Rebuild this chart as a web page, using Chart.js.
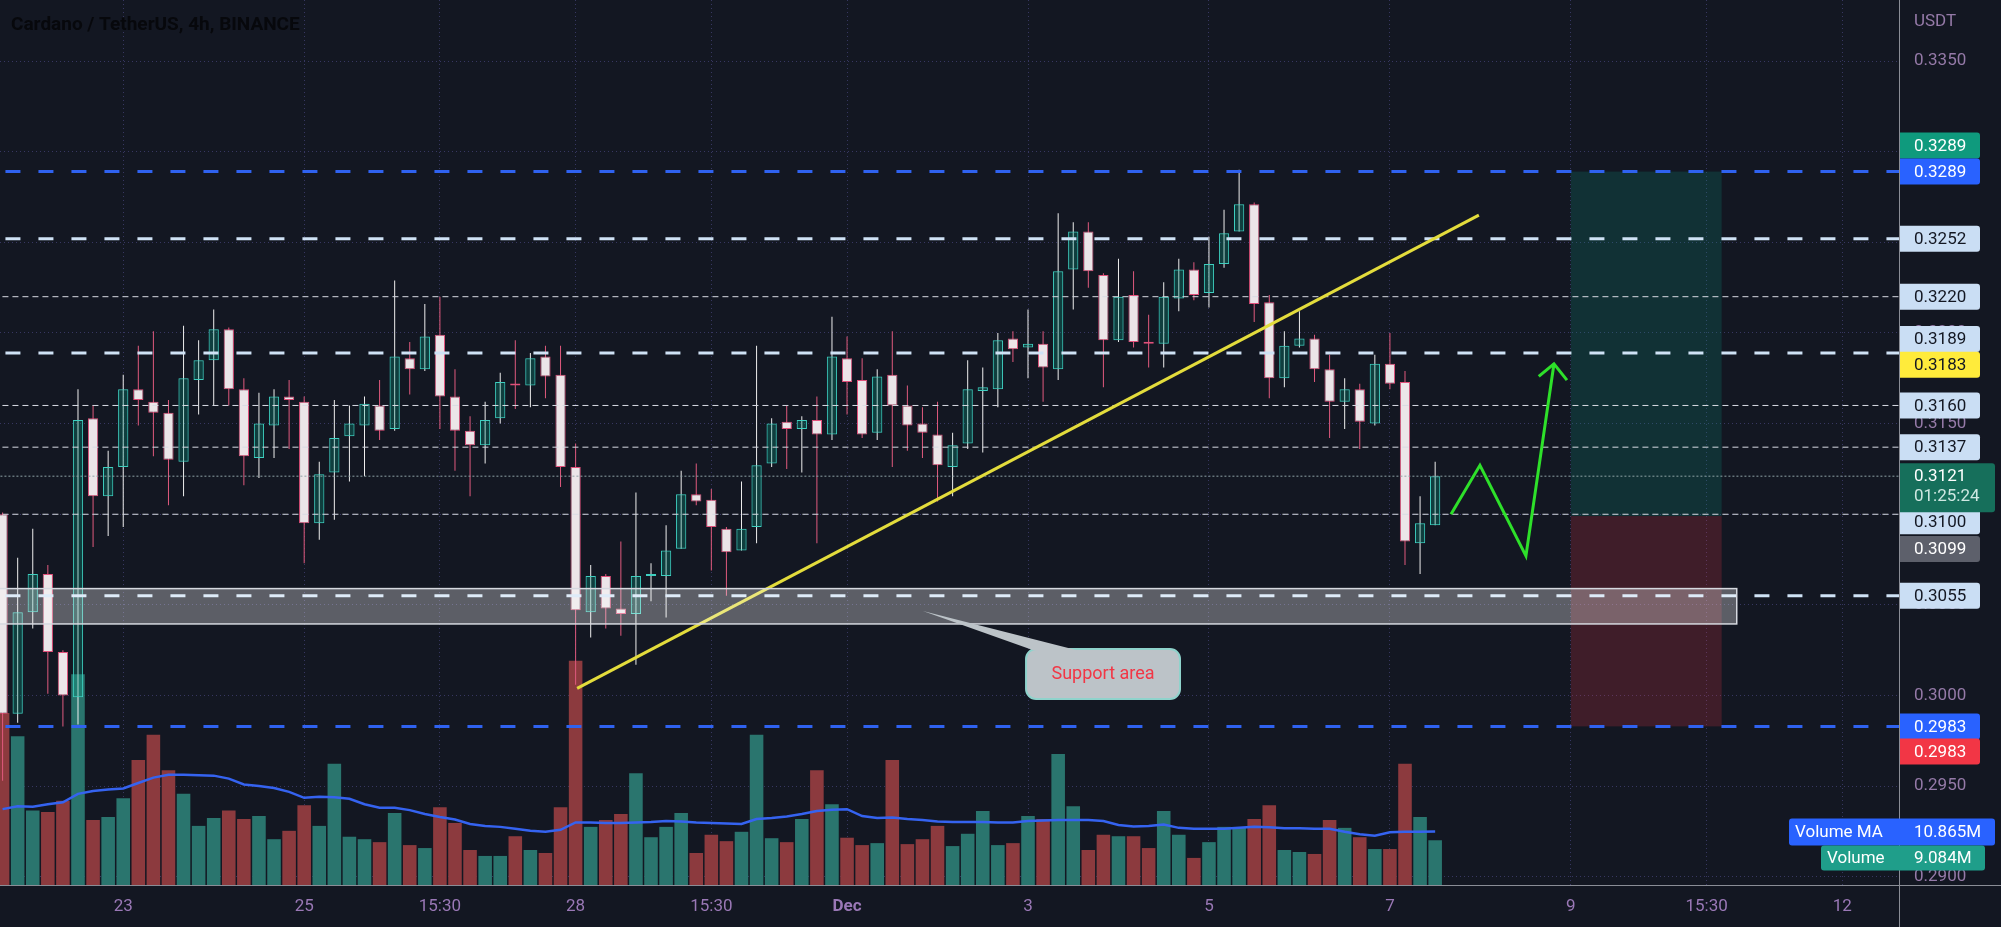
<!DOCTYPE html>
<html>
<head>
<meta charset="utf-8">
<title>Cardano / TetherUS, 4h, BINANCE</title>
<script src="https://cdn.jsdelivr.net/npm/chart.js@4.4.1/dist/chart.umd.min.js"></script>
<style>
  html, body { margin: 0; padding: 0; background: #131722; }
  canvas { display: block; }
</style>
</head>
<body>
<canvas id="chart" width="2001" height="927"></canvas>
<script>
// ADA/USDT 4h bars, bar 0 = first bar on screen
const opens = [
  0.3100, 0.2990, 0.3046, 0.3067, 0.3024, 0.2999, 0.3153, 0.3110, 0.3126, 0.3169,
  0.3162, 0.3156, 0.3129, 0.3174, 0.3185, 0.3202, 0.3169, 0.3131, 0.3149, 0.3165,
  0.3162, 0.3095, 0.3123, 0.3143, 0.3149, 0.3160, 0.3147, 0.3186, 0.3180, 0.3199,
  0.3165, 0.3146, 0.3138, 0.3153, 0.3172, 0.3171, 0.3187, 0.3177, 0.3126, 0.3046,
  0.3066, 0.3048, 0.3045, 0.3066, 0.3066, 0.3081, 0.3111, 0.3108, 0.3092, 0.3080,
  0.3093, 0.3128, 0.3151, 0.3147, 0.3152, 0.3144, 0.3186, 0.3174, 0.3145, 0.3177,
  0.3160, 0.3150, 0.3144, 0.3126, 0.3139, 0.3168, 0.3169, 0.3197, 0.3192, 0.3194,
  0.3180, 0.3235, 0.3256, 0.3232, 0.3196, 0.3221, 0.3195, 0.3194, 0.3219, 0.3235,
  0.3222, 0.3238, 0.3256, 0.3271, 0.3217, 0.3175, 0.3193, 0.3197, 0.3180, 0.3162,
  0.3169, 0.3150, 0.3183, 0.3173, 0.3084, 0.3094
];
const highs = [
  0.3101, 0.3076, 0.3092, 0.3072, 0.3025, 0.3169, 0.3160, 0.3135, 0.3177, 0.3193,
  0.3201, 0.3163, 0.3204, 0.3196, 0.3213, 0.3203, 0.3175, 0.3167, 0.3169, 0.3174,
  0.3165, 0.3129, 0.3163, 0.3160, 0.3165, 0.3174, 0.3229, 0.3195, 0.3216, 0.3220,
  0.3180, 0.3154, 0.3162, 0.3178, 0.3196, 0.3189, 0.3193, 0.3193, 0.3139, 0.3072,
  0.3067, 0.3085, 0.3112, 0.3073, 0.3094, 0.3124, 0.3128, 0.3114, 0.3093, 0.3118,
  0.3193, 0.3153, 0.3160, 0.3154, 0.3165, 0.3209, 0.3198, 0.3186, 0.3180, 0.3201,
  0.3171, 0.3159, 0.3162, 0.3145, 0.3185, 0.3181, 0.3200, 0.3201, 0.3213, 0.3201,
  0.3266, 0.3261, 0.3261, 0.3233, 0.3241, 0.3234, 0.3210, 0.3228, 0.3241, 0.3239,
  0.3253, 0.3268, 0.3290, 0.3272, 0.3221, 0.3201, 0.3212, 0.3199, 0.3188, 0.3175,
  0.3172, 0.3188, 0.3200, 0.3179, 0.3110, 0.3129
];
const lows = [
  0.2953, 0.2985, 0.3037, 0.3001, 0.2983, 0.2984, 0.3082, 0.3088, 0.3093, 0.3149,
  0.3132, 0.3105, 0.3110, 0.3155, 0.3160, 0.3160, 0.3116, 0.3120, 0.3131, 0.3136,
  0.3073, 0.3086, 0.3097, 0.3118, 0.3121, 0.3141, 0.3146, 0.3166, 0.3179, 0.3147,
  0.3124, 0.3110, 0.3128, 0.3150, 0.3158, 0.3159, 0.3164, 0.3115, 0.3006, 0.3032,
  0.3037, 0.3033, 0.3017, 0.3052, 0.3043, 0.3081, 0.3105, 0.3069, 0.3055, 0.3080,
  0.3084, 0.3126, 0.3125, 0.3123, 0.3084, 0.3141, 0.3155, 0.3142, 0.3141, 0.3126,
  0.3135, 0.3131, 0.3107, 0.3110, 0.3136, 0.3134, 0.3159, 0.3184, 0.3175, 0.3162,
  0.3174, 0.3213, 0.3225, 0.3170, 0.3195, 0.3192, 0.3181, 0.3181, 0.3212, 0.3218,
  0.3214, 0.3236, 0.3256, 0.3206, 0.3164, 0.3170, 0.3192, 0.3173, 0.3142, 0.3147,
  0.3136, 0.3149, 0.3169, 0.3072, 0.3067, 0.3094
];
const closes = [
  0.2990, 0.3046, 0.3067, 0.3024, 0.3000, 0.3152, 0.3110, 0.3126, 0.3169, 0.3163,
  0.3156, 0.3130, 0.3175, 0.3185, 0.3202, 0.3169, 0.3132, 0.3150, 0.3165, 0.3163,
  0.3095, 0.3122, 0.3142, 0.3150, 0.3161, 0.3146, 0.3187, 0.3180, 0.3198, 0.3165,
  0.3146, 0.3138, 0.3152, 0.3173, 0.3171, 0.3186, 0.3176, 0.3126, 0.3047, 0.3066,
  0.3048, 0.3045, 0.3066, 0.3067, 0.3080, 0.3111, 0.3107, 0.3093, 0.3079, 0.3092,
  0.3127, 0.3150, 0.3147, 0.3152, 0.3144, 0.3187, 0.3173, 0.3144, 0.3176, 0.3160,
  0.3149, 0.3145, 0.3127, 0.3138, 0.3169, 0.3170, 0.3196, 0.3191, 0.3194, 0.3181,
  0.3234, 0.3256, 0.3234, 0.3196, 0.3220, 0.3195, 0.3194, 0.3220, 0.3235, 0.3221,
  0.3238, 0.3255, 0.3271, 0.3216, 0.3175, 0.3193, 0.3197, 0.3180, 0.3162, 0.3169,
  0.3151, 0.3183, 0.3172, 0.3085, 0.3095, 0.3121
];
// volume in millions of ADA
const volumes = [
  34.9, 30.2, 15.1, 14.8, 17.1, 42.8, 13.2, 13.8, 17.6, 25.4,
  30.5, 23.3, 18.5, 12.0, 13.6, 15.1, 13.4, 14.0, 9.3, 11.0,
  16.2, 12.0, 24.6, 9.8, 9.3, 8.7, 14.6, 8.1, 7.5, 15.8,
  12.6, 7.1, 5.9, 5.9, 9.9, 7.1, 6.5, 15.8, 45.5, 11.8,
  13.2, 14.4, 22.7, 9.7, 11.8, 14.6, 6.5, 10.2, 8.9, 10.8,
  30.5, 9.5, 8.7, 13.4, 23.3, 16.4, 9.6, 8.1, 8.5, 25.4,
  8.3, 9.3, 12.0, 7.9, 10.4, 15.0, 8.1, 8.5, 14.0, 13.4,
  26.6, 16.0, 7.1, 10.2, 9.9, 9.9, 7.5, 15.0, 10.2, 5.5,
  8.7, 11.8, 11.6, 13.4, 16.2, 7.1, 6.7, 6.3, 13.2, 11.6,
  9.7, 7.3, 7.3, 24.6, 13.8, 9.084
];
const volumeMA = [
  15.4, 16.0, 15.9, 16.4, 16.8, 18.5, 19.1, 19.4, 19.6, 20.7,
  21.8, 22.4, 22.4, 22.3, 22.2, 21.6, 20.4, 20.1, 19.7, 18.9,
  17.7, 17.9, 17.8, 17.5, 16.4, 15.7, 15.7, 15.2, 14.4, 13.8,
  13.3, 12.4, 12.0, 11.8, 11.4, 11.0, 10.8, 11.2, 12.7, 12.7,
  12.6, 12.6, 12.7, 12.8, 13.0, 12.9, 12.7, 12.6, 12.5, 12.4,
  13.4, 13.6, 13.9, 14.4, 15.0, 15.3, 15.4, 14.0, 13.6, 13.7,
  13.4, 13.2, 12.9, 12.8, 12.8, 12.8, 12.7, 12.7, 13.0, 13.1,
  13.2, 13.2, 13.2, 13.0, 12.2, 11.9, 12.0, 12.3, 11.6, 11.4,
  11.4, 11.4, 11.6, 11.8, 11.7, 11.5, 11.5, 11.4, 11.4, 10.8,
  10.3, 10.0, 10.7, 10.8, 10.8, 10.865
];

// time axis labels (bar index where they sit)
const timeTickBars = [8, 20, 29, 38, 47, 56, 68, 80, 92, 104, 113, 122];
const timeTickLabels = ['23', '25', '15:30', '28', '15:30', 'Dec', '3', '5', '7', '9', '15:30', '12'];

// horizontal levels drawn on the chart
const levelPrices = [0.3289, 0.3252, 0.3220, 0.3189, 0.3160, 0.3137, 0.3121, 0.3100, 0.3055, 0.2983];
const levelKinds = ['blue', 'thick', 'thin', 'thick', 'thin', 'thin', 'last', 'thin', 'thick', 'blue'];

// drawings
const trendBars = [38.1, 97.9];
const trendPrices = [0.3004, 0.3265];
const arrowBars = [96.05, 97.97, 101.02, 102.88];
const arrowPrices = [0.3100, 0.3127, 0.3077, 0.3183];
const arrowHeadBars = [101.87, 102.88, 103.74];
const arrowHeadPrices = [0.3176, 0.3183, 0.3174];
const supportZone = [0.3059, 0.30395];
const supportBars = [-2, 115];
const positionBars = [104, 114];
const positionPrices = [0.3289, 0.3099, 0.2983]; // target, entry, stop
const calloutBars = [67.87, 78.08];
const calloutPrices = [0.30257, 0.29981];
const calloutTip = [61.03, 0.30466];
const calloutText = 'Support area';

// price scale tags: value, text
const tagPrices = [0.3289, 0.3289, 0.3252, 0.3220, 0.3189, 0.3183, 0.3160, 0.3137, 0.3100, 0.3099, 0.3055, 0.2983, 0.2983];
const tagColors = ['#0f9a7d', '#2962ff', '#cadef4', '#cadef4', '#cadef4', '#ffeb3b', '#cadef4', '#cadef4', '#cadef4', '#5d606b', '#cadef4', '#2962ff', '#f23645'];
const tagShift = [-26, 0, 0, 0, -14, 1, 0, 0, 7, 33, 0, 0, 25];
const lastPrice = 0.3121;
const countdown = '01:25:24';

const UP_BODY = 'rgba(8,153,129,0.3)';
const UP_BORDER = '#3fcfc0';
const UP_WICK = '#eeeeee';
const DN_BODY = '#ebe5e8';
const DN_BORDER = '#e0507a';
const DN_WICK = '#e05a7e';
const FONT = 'Roboto';

const isUp = closes.map((c, i) => c >= opens[i]);

const levelStyle = {
  blue:  { color: '#2f62f0', width: 3, dash: [15, 18] },
  thick: { color: '#cfe2f5', width: 3, dash: [15, 18] },
  thin:  { color: '#d8dbe3', width: 1, dash: [6, 4] },
  last:  { color: '#8fa3a6', width: 1, dash: [2, 2] }
};

const levelSets = levelPrices.map((p, k) => {
  const s = levelStyle[levelKinds[k]];
  return {
    type: 'line',
    data: [{ x: -2, y: p }, { x: 130, y: p }],
    borderColor: s.color,
    borderWidth: s.width,
    borderDash: s.dash,
    pointRadius: 0,
    yAxisID: 'y',
    order: 2
  };
});

const overlay = {
  id: 'overlay',
  beforeDatasetsDraw(chart) {
    const { ctx, chartArea: a, scales: { x, y } } = chart;
    ctx.save();
    ctx.beginPath();
    ctx.rect(a.left, a.top, a.width, a.height);
    ctx.clip();
    const x0 = x.getPixelForValue(positionBars[0]);
    const x1 = x.getPixelForValue(positionBars[1]);
    const yT = y.getPixelForValue(positionPrices[0]);
    const yE = y.getPixelForValue(positionPrices[1]);
    const yS = y.getPixelForValue(positionPrices[2]);
    ctx.fillStyle = 'rgba(8,153,129,0.2)';
    ctx.fillRect(x0, yT, x1 - x0, yE - yT);
    ctx.fillStyle = 'rgba(242,54,69,0.2)';
    ctx.fillRect(x0, yE, x1 - x0, yS - yE);
    ctx.restore();
  },
  afterDatasetsDraw(chart) {
    const { ctx, chartArea: a, scales: { x, y } } = chart;
    ctx.save();
    ctx.beginPath();
    ctx.rect(a.left, a.top, a.width, a.height);
    ctx.clip();

    // support zone
    const sx0 = x.getPixelForValue(supportBars[0]);
    const sx1 = x.getPixelForValue(supportBars[1]);
    const sy0 = y.getPixelForValue(supportZone[0]);
    const sy1 = y.getPixelForValue(supportZone[1]);
    ctx.fillStyle = 'rgba(255,255,255,0.31)';
    ctx.fillRect(sx0, sy0, sx1 - sx0, sy1 - sy0);
    ctx.strokeStyle = '#d6d9e0';
    ctx.lineWidth = 1.5;
    ctx.strokeRect(sx0, sy0, sx1 - sx0, sy1 - sy0);

    // callout
    const cx0 = x.getPixelForValue(calloutBars[0]);
    const cx1 = x.getPixelForValue(calloutBars[1]);
    const cy0 = y.getPixelForValue(calloutPrices[0]);
    const cy1 = y.getPixelForValue(calloutPrices[1]);
    const tx = x.getPixelForValue(calloutTip[0]);
    const ty = y.getPixelForValue(calloutTip[1]);
    ctx.fillStyle = '#bcc3c8';
    ctx.strokeStyle = '#8fd3cc';
    ctx.lineWidth = 2;
    ctx.beginPath();
    ctx.roundRect(cx0, cy0, cx1 - cx0, cy1 - cy0, 10);
    ctx.fill();
    ctx.stroke();
    ctx.beginPath();
    ctx.moveTo(tx, ty);
    ctx.lineTo(cx0 + 52, cy0 + 1.5);
    ctx.lineTo(cx0 + 8, cy0 + 1.5);
    ctx.closePath();
    ctx.fill();
    ctx.fillStyle = '#f23645';
    ctx.font = '18px ' + FONT;
    ctx.textAlign = 'center';
    ctx.textBaseline = 'middle';
    ctx.fillText(calloutText, (cx0 + cx1) / 2, (cy0 + cy1) / 2 + 1);
    ctx.restore();
  },
  afterDraw(chart) {
    const { ctx, chartArea: a, scales: { y, y2 } } = chart;
    const W = chart.width, H = chart.height;
    ctx.save();

    // separators
    ctx.strokeStyle = '#8a8d96';
    ctx.lineWidth = 1;
    ctx.beginPath();
    ctx.moveTo(a.right + 0.5, 0);
    ctx.lineTo(a.right + 0.5, H);
    ctx.moveTo(a.right, a.bottom + 0.5);
    ctx.lineTo(W, a.bottom + 0.5);
    ctx.stroke();

    ctx.textAlign = 'left';
    ctx.textBaseline = 'middle';
    ctx.font = '17px ' + FONT;
    ctx.fillStyle = '#957aa8';
    ctx.fillText('USDT', a.right + 15, 22);

    const tagLeft = a.right + 1;
    const textX = a.right + 15;
    const drawTag = (x0, x1, yc, h, bg, fg, text, tx) => {
      ctx.fillStyle = bg;
      ctx.beginPath();
      ctx.roundRect(x0, yc - h / 2, x1 - x0, h, [0, 3, 3, 0]);
      ctx.fill();
      ctx.fillStyle = fg;
      ctx.fillText(text, tx, yc + 1);
    };

    tagPrices.forEach((p, k) => {
      const yc = y.getPixelForValue(p) + tagShift[k];
      const bg = tagColors[k];
      const fg = (bg === '#cadef4' || bg === '#ffeb3b') ? '#131722' : '#ffffff';
      drawTag(tagLeft, tagLeft + 80, yc, 26, bg, fg, p.toFixed(4), textX);
    });

    // last price with countdown
    const ly = y.getPixelForValue(lastPrice);
    ctx.fillStyle = '#166f5b';
    ctx.beginPath();
    ctx.roundRect(tagLeft, ly - 13, 95, 49, [0, 3, 3, 0]);
    ctx.fill();
    ctx.fillStyle = '#ffffff';
    ctx.fillText(lastPrice.toFixed(4), textX, ly + 1);
    ctx.fillStyle = '#cfe8e2';
    ctx.fillText(countdown, textX, ly + 21);

    // volume labels
    const maY = y2.getPixelForValue(volumeMA[volumeMA.length - 1]);
    ctx.fillStyle = '#2962ff';
    ctx.beginPath();
    ctx.roundRect(a.right - 110, maY - 13, 110 + 96, 27, 3);
    ctx.fill();
    ctx.fillStyle = '#ffffff';
    ctx.fillText('Volume MA', a.right - 104, maY + 1);
    ctx.fillText(volumeMA[volumeMA.length - 1].toFixed(3) + 'M', textX, maY + 1);

    const vY = maY + 26;
    ctx.fillStyle = '#1f9e8a';
    ctx.beginPath();
    ctx.roundRect(a.right - 78, vY - 12, 78 + 86, 25, 3);
    ctx.fill();
    ctx.fillStyle = '#ffffff';
    ctx.fillText('Volume', a.right - 72, vY + 1);
    ctx.fillText(volumes[volumes.length - 1].toFixed(3) + 'M', textX, vY + 1);

    // title (dark on dark, as in the source screenshot)
    ctx.font = 'bold 19px ' + FONT;
    ctx.fillStyle = '#07080c';
    ctx.fillText('Cardano / TetherUS, 4h, BINANCE', 11, 25);
    ctx.restore();
  }
};

new Chart(document.getElementById('chart'), {
  type: 'bar',
  data: {
    datasets: [
      {
        type: 'line',
        data: trendBars.map((b, i) => ({ x: b, y: trendPrices[i] })),
        borderColor: '#e3dc3c',
        borderWidth: 3,
        pointRadius: 0,
        yAxisID: 'y',
        order: 0
      },
      {
        type: 'line',
        data: arrowBars.map((b, i) => ({ x: b, y: arrowPrices[i] })),
        borderColor: '#2ee02a',
        borderWidth: 3,
        pointRadius: 0,
        yAxisID: 'y',
        order: 0
      },
      {
        type: 'line',
        data: arrowHeadBars.map((b, i) => ({ x: b, y: arrowHeadPrices[i] })),
        borderColor: '#2ee02a',
        borderWidth: 3,
        pointRadius: 0,
        yAxisID: 'y',
        order: 0
      },
      ...levelSets,
      {
        // candle bodies
        data: opens.map((o, i) => ({ x: i, y: [o, closes[i]] })),
        backgroundColor: isUp.map(u => u ? UP_BODY : DN_BODY),
        borderColor: isUp.map(u => u ? UP_BORDER : DN_BORDER),
        borderWidth: 1,
        borderSkipped: false,
        grouped: false,
        categoryPercentage: 1,
        barPercentage: 0.68,
        minBarLength: 2,
        yAxisID: 'y',
        order: 3
      },
      {
        // wicks
        data: lows.map((l, i) => ({ x: i, y: [l, highs[i]] })),
        backgroundColor: isUp.map(u => u ? UP_WICK : DN_WICK),
        borderWidth: 0,
        grouped: false,
        maxBarThickness: 1,
        yAxisID: 'y',
        order: 4
      },
      {
        type: 'line',
        data: volumeMA.map((v, i) => ({ x: i, y: v })),
        borderColor: '#3563f0',
        borderWidth: 2.5,
        pointRadius: 0,
        yAxisID: 'y2',
        order: 5
      },
      {
        data: volumes.map((v, i) => ({ x: i, y: v })),
        backgroundColor: isUp.map(u => u ? '#2a756e' : '#8c3a3e'),
        borderWidth: 0,
        grouped: false,
        categoryPercentage: 1,
        barPercentage: 0.9,
        yAxisID: 'y2',
        order: 6
      }
    ]
  },
  options: {
    responsive: false,
    animation: false,
    devicePixelRatio: 1,
    layout: { padding: 0 },
    plugins: {
      legend: { display: false },
      tooltip: { enabled: false }
    },
    scales: {
      x: {
        type: 'linear',
        min: -0.172,
        max: 125.76,
        offset: false,
        afterFit: scale => {
          scale.height = 42;
          scale.paddingLeft = 0;
          scale.paddingRight = 0;
        },
        afterBuildTicks: scale => { scale.ticks = timeTickBars.map(v => ({ value: v })); },
        ticks: {
          autoSkip: false,
          maxRotation: 0,
          padding: 12,
          color: '#9a78b6',
          font: ctx => ({ family: FONT, size: 17, weight: ctx.tick && ctx.tick.value === 56 ? 'bold' : 'normal' }),
          callback: v => timeTickLabels[timeTickBars.indexOf(v)]
        },
        grid: { offset: false, drawTicks: false, color: 'rgba(80,76,140,0.6)' },
        border: { display: true, color: '#8a8d96', dash: [1, 3] }
      },
      y: {
        type: 'linear',
        position: 'right',
        min: 0.289551,
        max: 0.338365,
        afterFit: scale => {
          scale.width = 102;
          scale.paddingTop = 0;
          scale.paddingBottom = 0;
        },
        ticks: {
          stepSize: 0.005,
          includeBounds: false,
          padding: 15,
          color: '#957aa8',
          font: { family: FONT, size: 17 },
          callback: v => v.toFixed(4)
        },
        grid: { drawTicks: false, color: 'rgba(80,76,140,0.6)' },
        border: { display: true, color: '#8a8d96', dash: [1, 3] }
      },
      y2: {
        type: 'linear',
        display: false,
        min: 0,
        max: 179.66
      }
    }
  },
  plugins: [overlay]
});
</script>
</body>
</html>
